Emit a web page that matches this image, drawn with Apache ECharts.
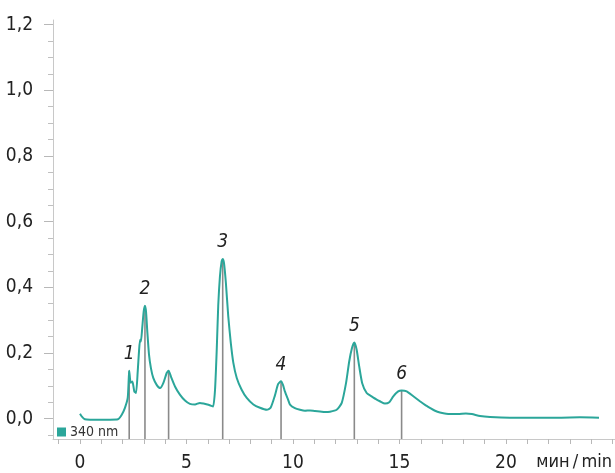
<!DOCTYPE html>
<html>
<head>
<meta charset="utf-8">
<script src="https://cdn.jsdelivr.net/npm/echarts@6/dist/echarts.min.js"></script>
<style>html,body{margin:0;padding:0;background:#fff}#c{width:615px;height:473px}</style>
</head>
<body>
<div id="c"></div>
<script>
// Retention time (min) and absorbance (340 nm)
const times = [0, 0.09, 0.23, 0.47, 0.94, 1.41, 1.78, 1.96, 2.11, 2.24, 2.29, 2.31, 2.38, 2.46, 2.55, 2.63, 2.71, 2.77, 2.82, 2.86, 2.92, 2.99, 3.05, 3.10, 3.16, 3.24, 3.33, 3.44, 3.60, 3.76, 3.91, 4.07, 4.16, 4.27, 4.46, 4.69, 4.93, 5.16, 5.40, 5.63, 5.80, 5.98, 6.12, 6.25, 6.34, 6.42, 6.49, 6.57, 6.65, 6.70, 6.76, 6.85, 6.96, 7.08, 7.20, 7.36, 7.59, 7.83, 8.14, 8.45, 8.77, 8.95, 9.15, 9.30, 9.44, 9.53, 9.62, 9.77, 9.86, 10.09, 10.33, 10.56, 10.80, 11.03, 11.27, 11.50, 11.74, 12.05, 12.29, 12.49, 12.64, 12.77, 12.88, 12.99, 13.11, 13.25, 13.46, 13.69, 13.93, 14.08, 14.32, 14.52, 14.71, 14.94, 15.10, 15.34, 15.65, 15.96, 16.20, 16.43, 16.67, 16.90, 17.37, 17.75, 18.12, 18.40, 18.78, 19.25, 20.19, 21.13, 22.54, 23.47, 24.37];
const absorbance = [0.015, 0.006, -0.002, -0.003, -0.003, -0.003, -0.002, 0.012, 0.033, 0.063, 0.124, 0.146, 0.109, 0.113, 0.083, 0.078, 0.144, 0.205, 0.240, 0.235, 0.275, 0.326, 0.344, 0.326, 0.265, 0.195, 0.154, 0.124, 0.103, 0.093, 0.108, 0.139, 0.146, 0.128, 0.098, 0.073, 0.055, 0.045, 0.043, 0.048, 0.046, 0.043, 0.040, 0.037, 0.088, 0.210, 0.344, 0.433, 0.479, 0.486, 0.474, 0.413, 0.312, 0.231, 0.170, 0.124, 0.088, 0.063, 0.043, 0.033, 0.027, 0.033, 0.070, 0.105, 0.114, 0.103, 0.083, 0.058, 0.043, 0.032, 0.027, 0.024, 0.025, 0.023, 0.022, 0.020, 0.021, 0.027, 0.048, 0.108, 0.174, 0.215, 0.232, 0.210, 0.159, 0.108, 0.078, 0.068, 0.058, 0.053, 0.046, 0.050, 0.068, 0.083, 0.086, 0.083, 0.068, 0.053, 0.042, 0.033, 0.024, 0.019, 0.014, 0.014, 0.016, 0.014, 0.008, 0.005, 0.003, 0.003, 0.003, 0.004, 0.003];

// Marked peaks
const peakTimes = [2.31, 3.05, 4.16, 6.70, 9.44, 12.88, 15.10];
const peakHeights = [0.146, 0.344, 0.146, 0.486, 0.114, 0.232, 0.086];
const peakLabels = ['1', '2', '', '3', '4', '5', '6'];

// Axis tick labels
const xTickLabels = [0, 5, 10, 15, 20];
const yTickLabels = [0, 0.2, 0.4, 0.6, 0.8, 1.0, 1.2];
const yMinorTicks = [-0.05, 0.05, 0.1, 0.15, 0.25, 0.3, 0.35, 0.45, 0.5, 0.55, 0.65, 0.7, 0.75, 0.85, 0.9, 0.95, 1.05, 1.1, 1.15];
const xTicks = [-1,0,1,2,3,4,5,6,7,8,9,10,11,12,13,14,15,16,17,18,19,20,21,22,23,24,25];
const seriesName = '340 nm';
const xUnit = 'мин\u2009/\u2009min';

const FONT = "'Liberation Sans Narrow','DejaVu Sans Condensed','Roboto',sans-serif";
const TEAL = '#2ba69a';
const X_MIN = -1.268, X_MAX = 25.12, Y_MIN = -0.062, Y_MAX = 1.214;

const chart = echarts.init(document.getElementById('c'));
const lineData = times.map((t, i) => [t, absorbance[i]]);
const peakData = peakTimes.map((t, i) => [t, peakHeights[i]]);

chart.setOption({
  animation: false,
  grid: {left: 53, right: 0, top: 20, bottom: 34},
  legend: {
    data: [seriesName], left: 57, top: 425, icon: 'rect', itemWidth: 9, itemHeight: 9, itemGap: 4,
    padding: 0,
    textStyle: {fontFamily: FONT, fontSize: 14, color: '#333', padding: [0,0,0,-1]}
  },
  xAxis: {
    type: 'value', min: X_MIN, max: X_MAX,
    axisLine: {onZero: false, lineStyle: {color: '#c8c8c8', width: 1}},
    axisTick: {show: true, customValues: xTicks, length: 5, lineStyle: {color: '#b8b8b8'}},
    axisLabel: {customValues: xTickLabels, margin: 15, fontFamily: FONT, fontSize: 19, color: '#222'},
    splitLine: {show: false}
  },
  yAxis: [{
    type: 'value', min: Y_MIN, max: Y_MAX,
    axisLine: {show: true, onZero: false, lineStyle: {color: '#c8c8c8', width: 1}},
    axisTick: {show: true, customValues: yTickLabels, length: 9, lineStyle: {color: '#b8b8b8'}},
    axisLabel: {customValues: yTickLabels, margin: 20, fontFamily: FONT, fontSize: 19, color: '#222',
      formatter: v => v.toFixed(1).replace('.', ',')},
    splitLine: {show: false}
  }, {
    type: 'value', min: Y_MIN, max: Y_MAX, position: 'left', offset: 0,
    axisLine: {show: false, onZero: false},
    axisTick: {show: true, customValues: yMinorTicks, length: 5, lineStyle: {color: '#c0c0c0'}},
    axisLabel: {show: false},
    splitLine: {show: false}
  }],
  series: [{
    type: 'custom', name: 'peaks', data: peakData, z: 1, silent: true,
    renderItem: (params, api) => {
      const t = api.value(0), h = api.value(1);
      const top = api.coord([t, h]);
      const bot = api.coord([t, Y_MIN]);
      const lbl = peakLabels[params.dataIndex];
      const children = [{
        type: 'line', shape: {x1: top[0], y1: top[1], x2: bot[0], y2: bot[1]},
        style: {stroke: '#8a8a8a', lineWidth: 1.6}
      }];
      if (lbl) children.push({
        type: 'text', x: top[0], y: top[1] - 7,
        style: {text: lbl, fontFamily: FONT, fontSize: 19, fontStyle: 'italic', fill: '#222',
          align: 'center', verticalAlign: 'bottom'}
      });
      return {type: 'group', children};
    }
  }, {
    type: 'line', name: seriesName, data: lineData, z: 3, showSymbol: false, smooth: 0.2,
    lineStyle: {color: TEAL, width: 2}, itemStyle: {color: TEAL}
  }],
  graphic: [{
    type: 'text', right: 3, top: 453,
    style: {text: xUnit, fontFamily: FONT, fontSize: 18, fill: '#222'}
  }]
});
</script>
</body>
</html>
